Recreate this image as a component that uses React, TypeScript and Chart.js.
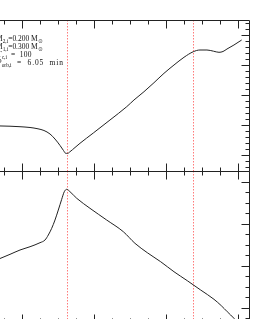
import { useEffect, useRef } from "react";
import { Chart, registerables } from "chart.js";

Chart.register(...registerables);

// ---- shared x axis ----
const X_MIN = 0.69;
const X_MAX = 4.149;
const X_MAJOR = [1, 2, 3, 4];
const X_MINOR = [0.75, 1.25, 1.5, 1.75, 2.25, 2.5, 2.75, 3.25, 3.5, 3.75];
const VLINES = [1.617, 3.375];

// ---- top panel ----
const TOP_X = [0.66, 0.829, 0.968, 1.107, 1.218, 1.301, 1.385, 1.454, 1.524, 1.572, 1.6, 1.628, 1.6625, 1.732, 1.801, 1.986, 2.218, 2.45, 2.551, 2.69, 2.829, 2.968, 3.107, 3.246, 3.375, 3.468, 3.565, 3.656, 3.732, 3.788, 3.843, 3.94, 4.047];
const TOP_Y = [0.96, 0.95, 0.933, 0.907, 0.863, 0.807, 0.69, 0.523, 0.307, 0.14, 0.05, 0.043, 0.1, 0.24, 0.38, 0.723, 1.157, 1.6, 1.823, 2.1, 2.4, 2.713, 2.99, 3.247, 3.433, 3.49, 3.49, 3.45, 3.413, 3.44, 3.523, 3.657, 3.823];
const TOP_Y_MIN = -0.543;
const TOP_Y_MAX = 4.49;
const TOP_Y_MAJOR = [0, 1, 2, 3, 4];
const TOP_Y_MINOR = [-0.4, -0.2, 0.2, 0.4, 0.6, 0.8, 1.2, 1.4, 1.6, 1.8, 2.2, 2.4, 2.6, 2.8, 3.2, 3.4, 3.6, 3.8, 4.2, 4.4];

// ---- bottom panel ----
const BOT_X = [0.66, 0.829, 0.968, 1.107, 1.246, 1.315, 1.361, 1.408, 1.454, 1.5, 1.547, 1.583, 1.617, 1.6625, 1.756, 1.94, 2.172, 2.403, 2.565, 2.736, 2.922, 3.107, 3.292, 3.478, 3.663, 3.764, 3.847, 3.94, 3.996];
const BOT_Y = [1.15, 1.271, 1.374, 1.452, 1.548, 1.612, 1.731, 1.89, 2.088, 2.326, 2.581, 2.762, 2.819, 2.762, 2.605, 2.367, 2.088, 1.81, 1.533, 1.31, 1.095, 0.857, 0.643, 0.421, 0.2, 0.048, -0.095, -0.252, -0.364];
const BOT_Y_MIN = -0.34;
const BOT_Y_MAX = 3.255;
const BOT_Y_MAJOR = [0, 1, 2, 3];
const BOT_Y_MINOR = [-0.25, 0.25, 0.5, 0.75, 1.25, 1.5, 1.75, 2.25, 2.5, 2.75];

// ---- annotation (top panel) ----
const LABEL_MAIN = ["M", "M", "T", "P"];
const LABEL_SUB = ["2,i", "1,i", "c,i", "orb,i"];
const LABEL_REST = ["=0.200 M", "=0.300 M", "  =  100", "  =  6.05  min"];
const LABEL_SUB2 = ["\u2299", "\u2299", "", ""];
const LABEL_SPACING = [0, 0, 0.3, 1.0];

const INK = "#222";
const TEXT_INK = "#111";
const DOT = "#ff7a7a";
const FONT = '"Liberation Serif"';
const SX = 0.86; // horizontal squeeze of annotation glyphs

function snap(v: number) {
  return Math.round(v) + 0.5;
}

function makeFramePlugin(yMajor: number[], yMinor: number[], withLabels: boolean) {
  return {
    id: "frame",
    beforeDatasetsDraw(chart: any) {
      const { ctx, chartArea, scales } = chart;
      ctx.save();
      ctx.strokeStyle = DOT;
      ctx.lineWidth = 1;
      ctx.setLineDash([1.5, 1.5]);
      VLINES.forEach((v) => {
        const px = snap(scales.x.getPixelForValue(v));
        ctx.beginPath();
        ctx.moveTo(px, chartArea.top);
        ctx.lineTo(px, chartArea.bottom);
        ctx.stroke();
      });
      ctx.restore();
    },
    afterDatasetsDraw(chart: any) {
      const { ctx, chartArea, scales } = chart;
      const top = snap(chartArea.top);
      const bottom = snap(chartArea.bottom);
      const right = snap(chartArea.right);
      const left = chartArea.left - 2;
      ctx.save();
      ctx.strokeStyle = INK;
      ctx.lineWidth = 1;
      ctx.setLineDash([]);
      ctx.beginPath();
      ctx.moveTo(left, top);
      ctx.lineTo(right, top);
      ctx.lineTo(right, bottom);
      ctx.lineTo(left, bottom);
      const xt = (vals: number[], len: number) => {
        vals.forEach((v) => {
          const px = snap(scales.x.getPixelForValue(v));
          ctx.moveTo(px, top);
          ctx.lineTo(px, top + len);
          ctx.moveTo(px, bottom);
          ctx.lineTo(px, bottom - len);
        });
      };
      xt(X_MAJOR, 8);
      xt(X_MINOR, 4);
      const yt = (vals: number[], len: number) => {
        vals.forEach((v) => {
          const py = snap(scales.y.getPixelForValue(v));
          ctx.moveTo(right, py);
          ctx.lineTo(right - len, py);
        });
      };
      yt(yMajor, 8);
      yt(yMinor, 4);
      ctx.stroke();
      ctx.restore();

      if (withLabels) {
        ctx.save();
        ctx.fillStyle = TEXT_INK;
        ctx.textBaseline = "alphabetic";
        ctx.scale(SX, 1);
        const subX = [2.7 / SX, 2.7 / SX, 1.7 / SX, 1.7 / SX];
        const base = [41, 49, 57, 65];
        LABEL_MAIN.forEach((m, i) => {
          const y = base[i];
          (ctx as any).letterSpacing = "0px";
          ctx.font = `8.7px ${FONT}`;
          ctx.textAlign = "right";
          ctx.fillText(m, subX[i], y);
          ctx.textAlign = "left";
          ctx.font = `6.2px ${FONT}`;
          ctx.fillText(LABEL_SUB[i], subX[i], y + 2);
          let x = subX[i] + ctx.measureText(LABEL_SUB[i]).width;
          ctx.font = `8.7px ${FONT}`;
          (ctx as any).letterSpacing = `${LABEL_SPACING[i]}px`;
          ctx.fillText(LABEL_REST[i], x, y);
          x += ctx.measureText(LABEL_REST[i]).width;
          (ctx as any).letterSpacing = "0px";
          if (LABEL_SUB2[i]) {
            ctx.font = `6.2px "DejaVu Sans"`;
            ctx.fillText(LABEL_SUB2[i], x + 0.5, y + 2);
          }
        });
        ctx.restore();
      }
    },
  };
}

function Panel(props: {
  xs: number[];
  ys: number[];
  yMin: number;
  yMax: number;
  yMajor: number[];
  yMinor: number[];
  height: number;
  top: number;
  padTop: number;
  padBottom: number;
  labels: boolean;
}) {
  const ref = useRef<HTMLCanvasElement | null>(null);
  useEffect(() => {
    if (!ref.current) return;
    const chart = new Chart(ref.current, {
      type: "line",
      data: {
        datasets: [
          {
            data: props.xs.map((x, i) => ({ x, y: props.ys[i] })),
            borderColor: INK,
            borderWidth: 1,
            pointRadius: 0,
            fill: false,
            cubicInterpolationMode: "monotone",
          },
        ],
      },
      options: {
        animation: false,
        responsive: false,
        events: [],
        layout: { padding: { left: 0, right: 20, top: props.padTop, bottom: props.padBottom } },
        plugins: { legend: { display: false }, tooltip: { enabled: false } },
        scales: {
          x: { type: "linear", min: X_MIN, max: X_MAX, display: false },
          y: { type: "linear", min: props.yMin, max: props.yMax, display: false },
        },
      },
      plugins: [makeFramePlugin(props.yMajor, props.yMinor, props.labels)],
    } as any);
    return () => chart.destroy();
  }, []);
  return (
    <canvas
      ref={ref}
      width={269}
      height={props.height}
      style={{ position: "absolute", left: 0, top: props.top, width: 269, height: props.height }}
    />
  );
}

export default function App() {
  return (
    <div
      style={{
        position: "fixed",
        left: 0,
        top: 0,
        width: 269,
        height: 319,
        overflow: "hidden",
        background: "#fff",
      }}
    >
      <Panel
        xs={TOP_X}
        ys={TOP_Y}
        yMin={TOP_Y_MIN}
        yMax={TOP_Y_MAX}
        yMajor={TOP_Y_MAJOR}
        yMinor={TOP_Y_MINOR}
        height={172}
        top={0}
        padTop={20}
        padBottom={1}
        labels={true}
      />
      <Panel
        xs={BOT_X}
        ys={BOT_Y}
        yMin={BOT_Y_MIN}
        yMax={BOT_Y_MAX}
        yMajor={BOT_Y_MAJOR}
        yMinor={BOT_Y_MINOR}
        height={160}
        top={171}
        padTop={0}
        padBottom={9}
        labels={false}
      />
    </div>
  );
}
